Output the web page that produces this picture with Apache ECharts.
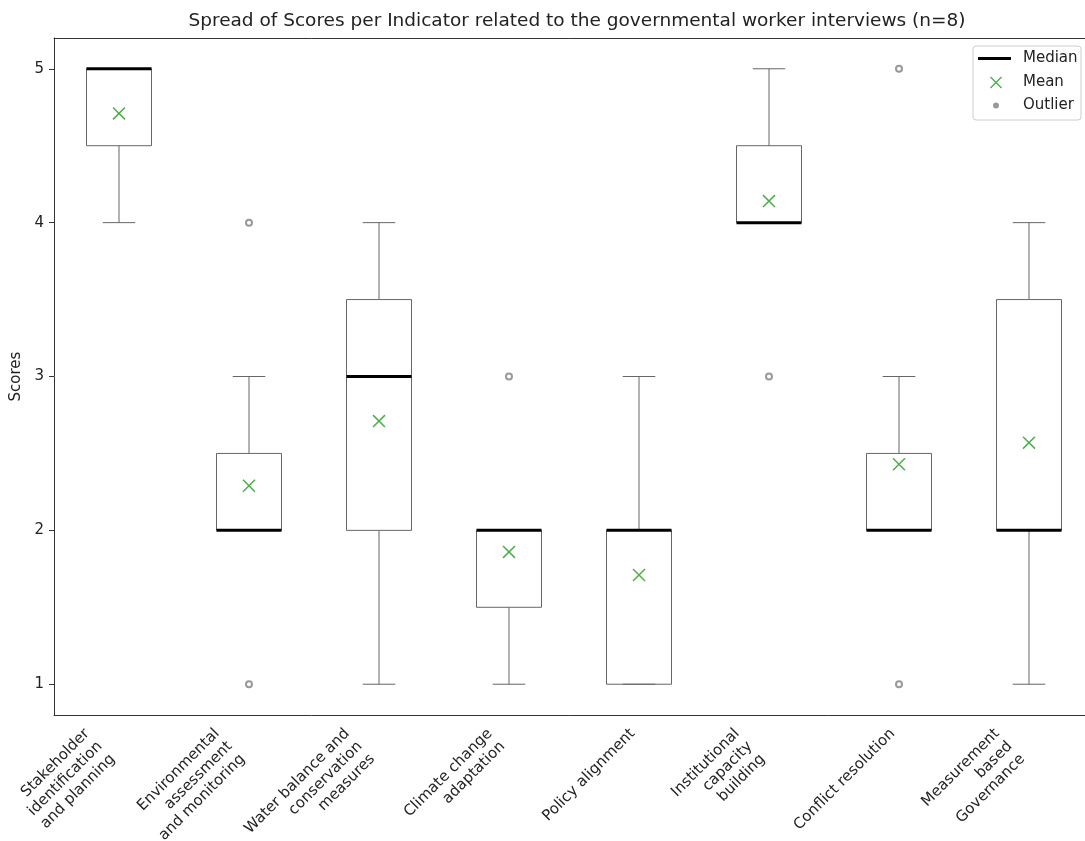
<!DOCTYPE html>
<html>
<head>
<meta charset="utf-8">
<script src="https://cdn.jsdelivr.net/npm/echarts@6/dist/echarts.min.js"></script>
<style>
  html, body { margin: 0; padding: 0; background: #fff; }
  #chart { width: 1085px; height: 841px; }
</style>
</head>
<body>
<div id="chart"></div>
<script>
// Indicator names (line breaks as shown under the axis)
const categories = [
  'Stakeholder\nidentification\nand planning',
  'Environmental\nassessment\nand monitoring',
  'Water balance and\nconservation\nmeasures',
  'Climate change\nadaptation',
  'Policy alignment',
  'Institutional\ncapacity\nbuilding',
  'Conflict resolution',
  'Measurement\nbased\nGovernance'
];

// Five-number summaries per indicator
const whiskerLow  = [4,   2,   1,   1,   1, 4,   2,   1];
const quartile1   = [4.5, 2,   2,   1.5, 1, 4,   2,   2];
const medians     = [5,   2,   3,   2,   2, 4,   2,   2];
const quartile3   = [5,   2.5, 3.5, 2,   2, 4.5, 2.5, 3.5];
const whiskerHigh = [5,   3,   4,   2,   3, 5,   3,   4];

// Mean score per indicator
const means = [4.71, 2.29, 2.71, 1.86, 1.71, 4.14, 2.43, 2.57];

// Points beyond the whiskers, per indicator
const outliers = [[], [4, 1], [], [3], [], [3], [5, 1], []];

// Score ticks
const yTicks = [1, 2, 3, 4, 5];

const FONT = 'DejaVu Sans';
const LABEL_SIZE = 15;
const LINE_H = 18;
const AXIS_COLOR = '#333';
const BOX_COLOR = '#666';
const MEAN_COLOR = '#2ca02c';
const OUTLIER_COLOR = '#808080';
const CROSS = 'path://M0,0.8L0.8,0L10,9.2L9.2,10Z M9.2,0L10,0.8L0.8,10L0,9.2Z';

// Rotated labels hang from the tick by their top-right corner:
// shift each block by half its own height along the text direction.
const xAxisData = categories.map(name => {
  const lines = name.split('\n').length;
  return { value: name, textStyle: { padding: [0, lines * LINE_H / 2, 0, 0] } };
});

const boxData = categories.map((_, i) =>
  [i, whiskerLow[i], quartile1[i], medians[i], quartile3[i], whiskerHigh[i]]);
const medianData = categories.map((_, i) => [i, medians[i]]);
const meanData = categories.map((_, i) => [i, means[i]]);
const outlierData = [];
outliers.forEach((vals, i) => vals.forEach(v => outlierData.push([i, v])));

function renderBox(params, api) {
  const i = api.value(0);
  const band = api.size([1, 0])[0];
  const half = band * 0.25;
  const cap = band * 0.125;
  const cx = api.coord([i, api.value(1)])[0];
  const yLow = api.coord([i, api.value(1)])[1];
  const yQ1 = api.coord([i, api.value(2)])[1];
  const yQ3 = api.coord([i, api.value(4)])[1];
  const yHigh = api.coord([i, api.value(5)])[1];
  const s = { stroke: BOX_COLOR, lineWidth: 1, fill: null };
  return {
    type: 'group',
    children: [
      { type: 'line', shape: { x1: cx, y1: yQ1, x2: cx, y2: yLow }, style: s },
      { type: 'line', shape: { x1: cx, y1: yQ3, x2: cx, y2: yHigh }, style: s },
      { type: 'line', shape: { x1: cx - cap, y1: yLow, x2: cx + cap, y2: yLow }, style: s },
      { type: 'line', shape: { x1: cx - cap, y1: yHigh, x2: cx + cap, y2: yHigh }, style: s },
      { type: 'rect', shape: { x: cx - half, y: yQ3, width: half * 2, height: yQ1 - yQ3 },
        style: { stroke: BOX_COLOR, lineWidth: 1, fill: 'none' } }
    ]
  };
}

function renderMedian(params, api) {
  const i = api.value(0);
  const half = api.size([1, 0])[0] * 0.25;
  const pt = api.coord([i, api.value(1)]);
  return {
    type: 'line',
    shape: { x1: pt[0] - half, y1: pt[1], x2: pt[0] + half, y2: pt[1] },
    style: { stroke: '#000', lineWidth: 3 }
  };
}

const legendText = { fontFamily: FONT, fontSize: 15, color: '#222', lineHeight: 15 };

const option = {
  animation: false,
  backgroundColor: '#fff',
  title: {
    text: 'Spread of Scores per Indicator related to the governmental worker interviews (n=8)',
    left: 572,
    textAlign: 'center',
    top: 7,
    textStyle: { fontFamily: FONT, fontSize: 18.5, fontWeight: 'normal', color: '#222' }
  },
  grid: {
    left: 54, top: 38, width: 1040, height: 677,
    outerBoundsMode: 'none',
    containLabel: false,
    show: false
  },
  legend: [
    {
      data: [{ name: 'Median', icon: 'rect' }],
      left: 978, top: 51, padding: 0, z: 10,
      itemWidth: 33, itemHeight: 3,
      textStyle: Object.assign({ padding: [0, 0, 0, 7] }, legendText),
      selectedMode: false
    },
    {
      data: [{ name: 'Mean', icon: CROSS }],
      left: 990, top: 75, padding: 0, z: 10,
      itemWidth: 12, itemHeight: 12,
      textStyle: Object.assign({ padding: [0, 0, 0, 16] }, legendText),
      selectedMode: false
    },
    {
      data: [{ name: 'Outlier', icon: 'circle' }],
      left: 993, top: 98, padding: 0, z: 10,
      itemWidth: 6, itemHeight: 6,
      textStyle: Object.assign({ padding: [0, 0, 0, 19] }, legendText),
      selectedMode: false
    }
  ],
  graphic: [{
    type: 'rect',
    shape: { x: 973, y: 46, width: 108, height: 74, r: 3 },
    style: { fill: 'rgba(255,255,255,0.8)', stroke: '#ccc', lineWidth: 1 },
    z: 5, silent: true
  }],
  xAxis: [
    {
      type: 'category',
      data: xAxisData,
      axisLine: { lineStyle: { color: AXIS_COLOR, width: 1 } },
      axisTick: { alignWithLabel: true, length: 5, lineStyle: { color: AXIS_COLOR } },
      axisLabel: {
        interval: 0, rotate: 45, margin: 10,
        fontFamily: FONT, fontSize: LABEL_SIZE, lineHeight: LINE_H, color: '#222'
      },
      splitLine: { show: false }
    },
    {
      // top frame line
      type: 'category',
      position: 'top',
      data: categories,
      axisLine: { show: true, lineStyle: { color: AXIS_COLOR, width: 1 } },
      axisTick: { show: false },
      axisLabel: { show: false },
      splitLine: { show: false }
    }
  ],
  yAxis: {
    type: 'value',
    min: 0.8, max: 5.2,
    name: 'Scores',
    nameLocation: 'middle',
    nameGap: 28,
    nameRotate: 90,
    nameTextStyle: { fontFamily: FONT, fontSize: LABEL_SIZE, color: '#222' },
    axisLine: { show: true, lineStyle: { color: AXIS_COLOR, width: 1 } },
    axisTick: { show: true, length: 5, customValues: yTicks, lineStyle: { color: AXIS_COLOR } },
    axisLabel: { customValues: yTicks, margin: 10, fontFamily: FONT, fontSize: LABEL_SIZE, color: '#222' },
    splitLine: { show: false }
  },
  series: [
    {
      name: 'Box',
      type: 'custom',
      renderItem: renderBox,
      data: boxData,
      encode: { x: 0, y: [1, 2, 3, 4, 5] },
      z: 2
    },
    {
      name: 'Median',
      type: 'custom',
      renderItem: renderMedian,
      data: medianData,
      encode: { x: 0, y: 1 },
      itemStyle: { color: '#000' },
      z: 3
    },
    {
      name: 'Mean',
      type: 'scatter',
      data: meanData,
      symbol: CROSS,
      symbolSize: 13,
      itemStyle: { color: MEAN_COLOR, opacity: 0.85 },
      z: 4
    },
    {
      name: 'Outlier',
      type: 'scatter',
      data: outlierData,
      symbol: 'emptyCircle',
      symbolSize: 6,
      itemStyle: { color: OUTLIER_COLOR, borderWidth: 1 },
      z: 4
    }
  ]
};

const chart = echarts.init(document.getElementById('chart'), null, { renderer: 'canvas' });
chart.setOption(option);
</script>
</body>
</html>
